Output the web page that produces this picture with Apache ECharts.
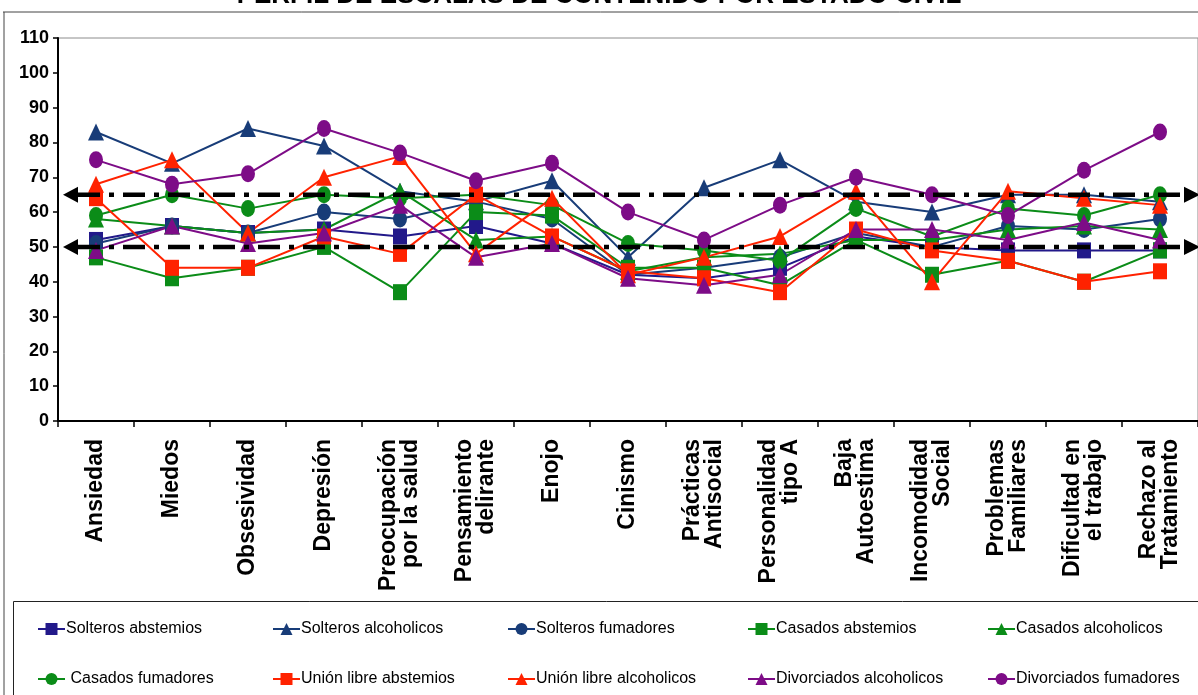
<!DOCTYPE html>
<html>
<head>
<meta charset="utf-8">
<script src="https://cdn.jsdelivr.net/npm/echarts@6/dist/echarts.min.js"></script>
<style>
  html, body { margin: 0; padding: 0; background: #fff; }
  #chart { width: 1198px; height: 695px; }
</style>
</head>
<body>
<div id="chart"></div>
<script>
// Content-scale profile (T scores) by marital status
const titleText = 'PERFIL DE ESCALAS DE CONTENIDO POR ESTADO CIVIL';

const categories = [
  'Ansiedad', 'Miedos', 'Obsesividad', 'Depresión',
  'Preocupación\npor la salud', 'Pensamiento\ndelirante', 'Enojo', 'Cinismo',
  'Prácticas\nAntisocial', 'Personalidad\ntipo A', 'Baja\nAutoestima',
  'Incomodidad\nSocial', 'Problemas\nFamiliares', 'Dificultad en\nel trabajo',
  'Rechazo al\nTratamiento'
];

const solterosAbstemios      = [52, 56, 54, 55, 53, 56, 51, 42, 41, 44, 53, 50, 49, 49, 49];
const solterosAlcoholicos    = [83, 74, 84, 79, 66, 63, 69, 47, 67, 75, 63, 60, 65, 65, 63];
const solterosFumadores      = [51, 56, 54, 60, 58, 63, 58, 42, 44, 47, 54, 50, 56, 55, 58];
const casadosAbstemios       = [47, 41, 44, 50, 37, 60, 59, 44, 44, 39, 52, 42, 46, 40, 49];
const casadosAlcoholicos     = [58, 56, 54, 55, 66, 52, 53, 43, 47, 48, 52, 52, 55, 56, 55];
const casadosFumadores       = [59, 65, 61, 65, 64, 65, 62, 51, 49, 46, 61, 53, 61, 59, 65];
const unionAbstemios         = [64, 44, 44, 53, 48, 65, 53, 43, 41, 37, 55, 49, 46, 40, 43];
const unionAlcoholicos       = [68, 75, 54, 70, 76, 48, 64, 42, 47, 53, 66, 40, 66, 64, 62];
const divorciadosAlcoholicos = [49, 56, 51, 54, 62, 47, 51, 41, 39, 42, 55, 55, 52, 57, 52];
const divorciadosFumadores   = [75, 68, 71, 84, 77, 69, 74, 60, 52, 62, 70, 65, 59, 72, 83];

// cut-off reference levels
const upperLevel = 65;
const lowerLevel = 50;

const yTicks = { min: 0, max: 110, interval: 10 };

const FONT = '"Liberation Sans", Arial, sans-serif';

const INDIGO = '#22198A';
const NAVY = '#183C78';
const GREEN = '#0B8C18';
const RED = '#FF2200';
const PURPLE = '#7D0C87';

function line(name, data, color, symbol) {
  const sizes = { rect: [14, 16], triangle: [16, 17], circle: [14, 17] };
  return {
    name: name,
    type: 'line',
    data: data,
    symbol: symbol,
    symbolSize: sizes[symbol],
    showSymbol: true,
    animation: false,
    lineStyle: { color: color, width: 2 },
    itemStyle: { color: color, borderWidth: 0 },
    emphasis: { disabled: true }
  };
}

const seriesList = [
  line('Solteros abstemios', solterosAbstemios, INDIGO, 'rect'),
  line('Solteros alcoholicos', solterosAlcoholicos, NAVY, 'triangle'),
  line('Solteros fumadores', solterosFumadores, NAVY, 'circle'),
  line('Casados abstemios', casadosAbstemios, GREEN, 'rect'),
  line('Casados alcoholicos', casadosAlcoholicos, GREEN, 'triangle'),
  line('Casados fumadores', casadosFumadores, GREEN, 'circle'),
  line('Unión libre abstemios', unionAbstemios, RED, 'rect'),
  line('Unión libre alcoholicos', unionAlcoholicos, RED, 'triangle'),
  line('Divorciados alcoholicos', divorciadosAlcoholicos, PURPLE, 'triangle'),
  line('Divorciados fumadores', divorciadosFumadores, PURPLE, 'circle')
];

// legend: five columns, two rows
const legendLefts = [37, 272, 507, 747, 987];
const legends = legendLefts.map((left, c) => ({
  data: [seriesList[c].name, seriesList[c + 5].name],
  orient: 'vertical',
  left: left,
  top: 619,
  padding: 0,
  itemWidth: 27,
  itemHeight: 15,
  itemGap: 30,
  formatter: n => (n === 'Casados fumadores' ? ' ' + n : n),
  textStyle: { fontFamily: FONT, fontSize: 16, color: '#000', lineHeight: 20, padding: [0, 0, 0, -4] },
  selectedMode: false
}));

const chart = echarts.init(document.getElementById('chart'), null, { renderer: 'canvas' });

chart.setOption({
  animation: false,
  backgroundColor: '#fff',
  title: {
    text: titleText,
    left: 'center',
    top: -22,
    textStyle: { fontFamily: FONT, fontSize: 26, fontWeight: 'bold', color: '#000' }
  },
  legend: legends,
  grid: {
    left: 58, top: 38, right: -10, bottom: 274,
    show: true, borderColor: '#8c8c8c', borderWidth: 1, backgroundColor: '#fff'
  },
  xAxis: {
    type: 'category',
    data: categories,
    boundaryGap: true,
    axisLine: { lineStyle: { color: '#000', width: 2 } },
    axisTick: { show: true, length: 6, lineStyle: { color: '#000', width: 1.5 } },
    axisLabel: {
      rotate: 90, interval: 0, margin: 18,
      fontFamily: FONT, fontSize: 23, fontWeight: 'bold', color: '#000', lineHeight: 22
    },
    splitLine: { show: false }
  },
  yAxis: {
    type: 'value',
    min: yTicks.min, max: yTicks.max, interval: yTicks.interval,
    axisLine: { show: true, lineStyle: { color: '#000', width: 2 } },
    axisTick: { show: true, length: 5, lineStyle: { color: '#000', width: 1.5 } },
    axisLabel: { margin: 9, fontFamily: FONT, fontSize: 18, fontWeight: 'bold', color: '#000' },
    splitLine: { show: false }
  },
  series: seriesList
});

// dash-dot reference lines with arrowheads, placed through the value axis
function refLine(value) {
  const y = chart.convertToPixel({ yAxisIndex: 0 }, value);
  const x0 = 63, x1 = 1198;
  return [
    {
      type: 'line', z: 100,
      shape: { x1: x0 + 15, y1: y, x2: x1 - 13, y2: y },
      style: { stroke: '#000', lineWidth: 4.5, lineDash: [22, 9, 5, 9] }
    },
    {
      type: 'polygon', z: 100,
      shape: { points: [[x0, y], [x0 + 15, y - 8], [x0 + 15, y + 8]] },
      style: { fill: '#000' }
    },
    {
      type: 'polygon', z: 100,
      shape: { points: [[x1 + 2, y], [x1 - 14, y - 8], [x1 - 14, y + 8]] },
      style: { fill: '#000' }
    }
  ];
}

const graphics = [].concat(
  refLine(upperLevel),
  refLine(lowerLevel),
  [
    // chart frame
    { type: 'line', z: 50, shape: { x1: 3, y1: 12, x2: 1198, y2: 12 }, style: { stroke: '#444', lineWidth: 1 } },
    { type: 'line', z: 50, shape: { x1: 4, y1: 12, x2: 4, y2: 695 }, style: { stroke: '#444', lineWidth: 1 } },
    // legend box
    { type: 'rect', z: 50, shape: { x: 13.5, y: 601.5, width: 1200, height: 120 }, style: { fill: 'none', stroke: '#222', lineWidth: 1 } }
  ]
);

chart.setOption({ graphic: graphics });
</script>
</body>
</html>
